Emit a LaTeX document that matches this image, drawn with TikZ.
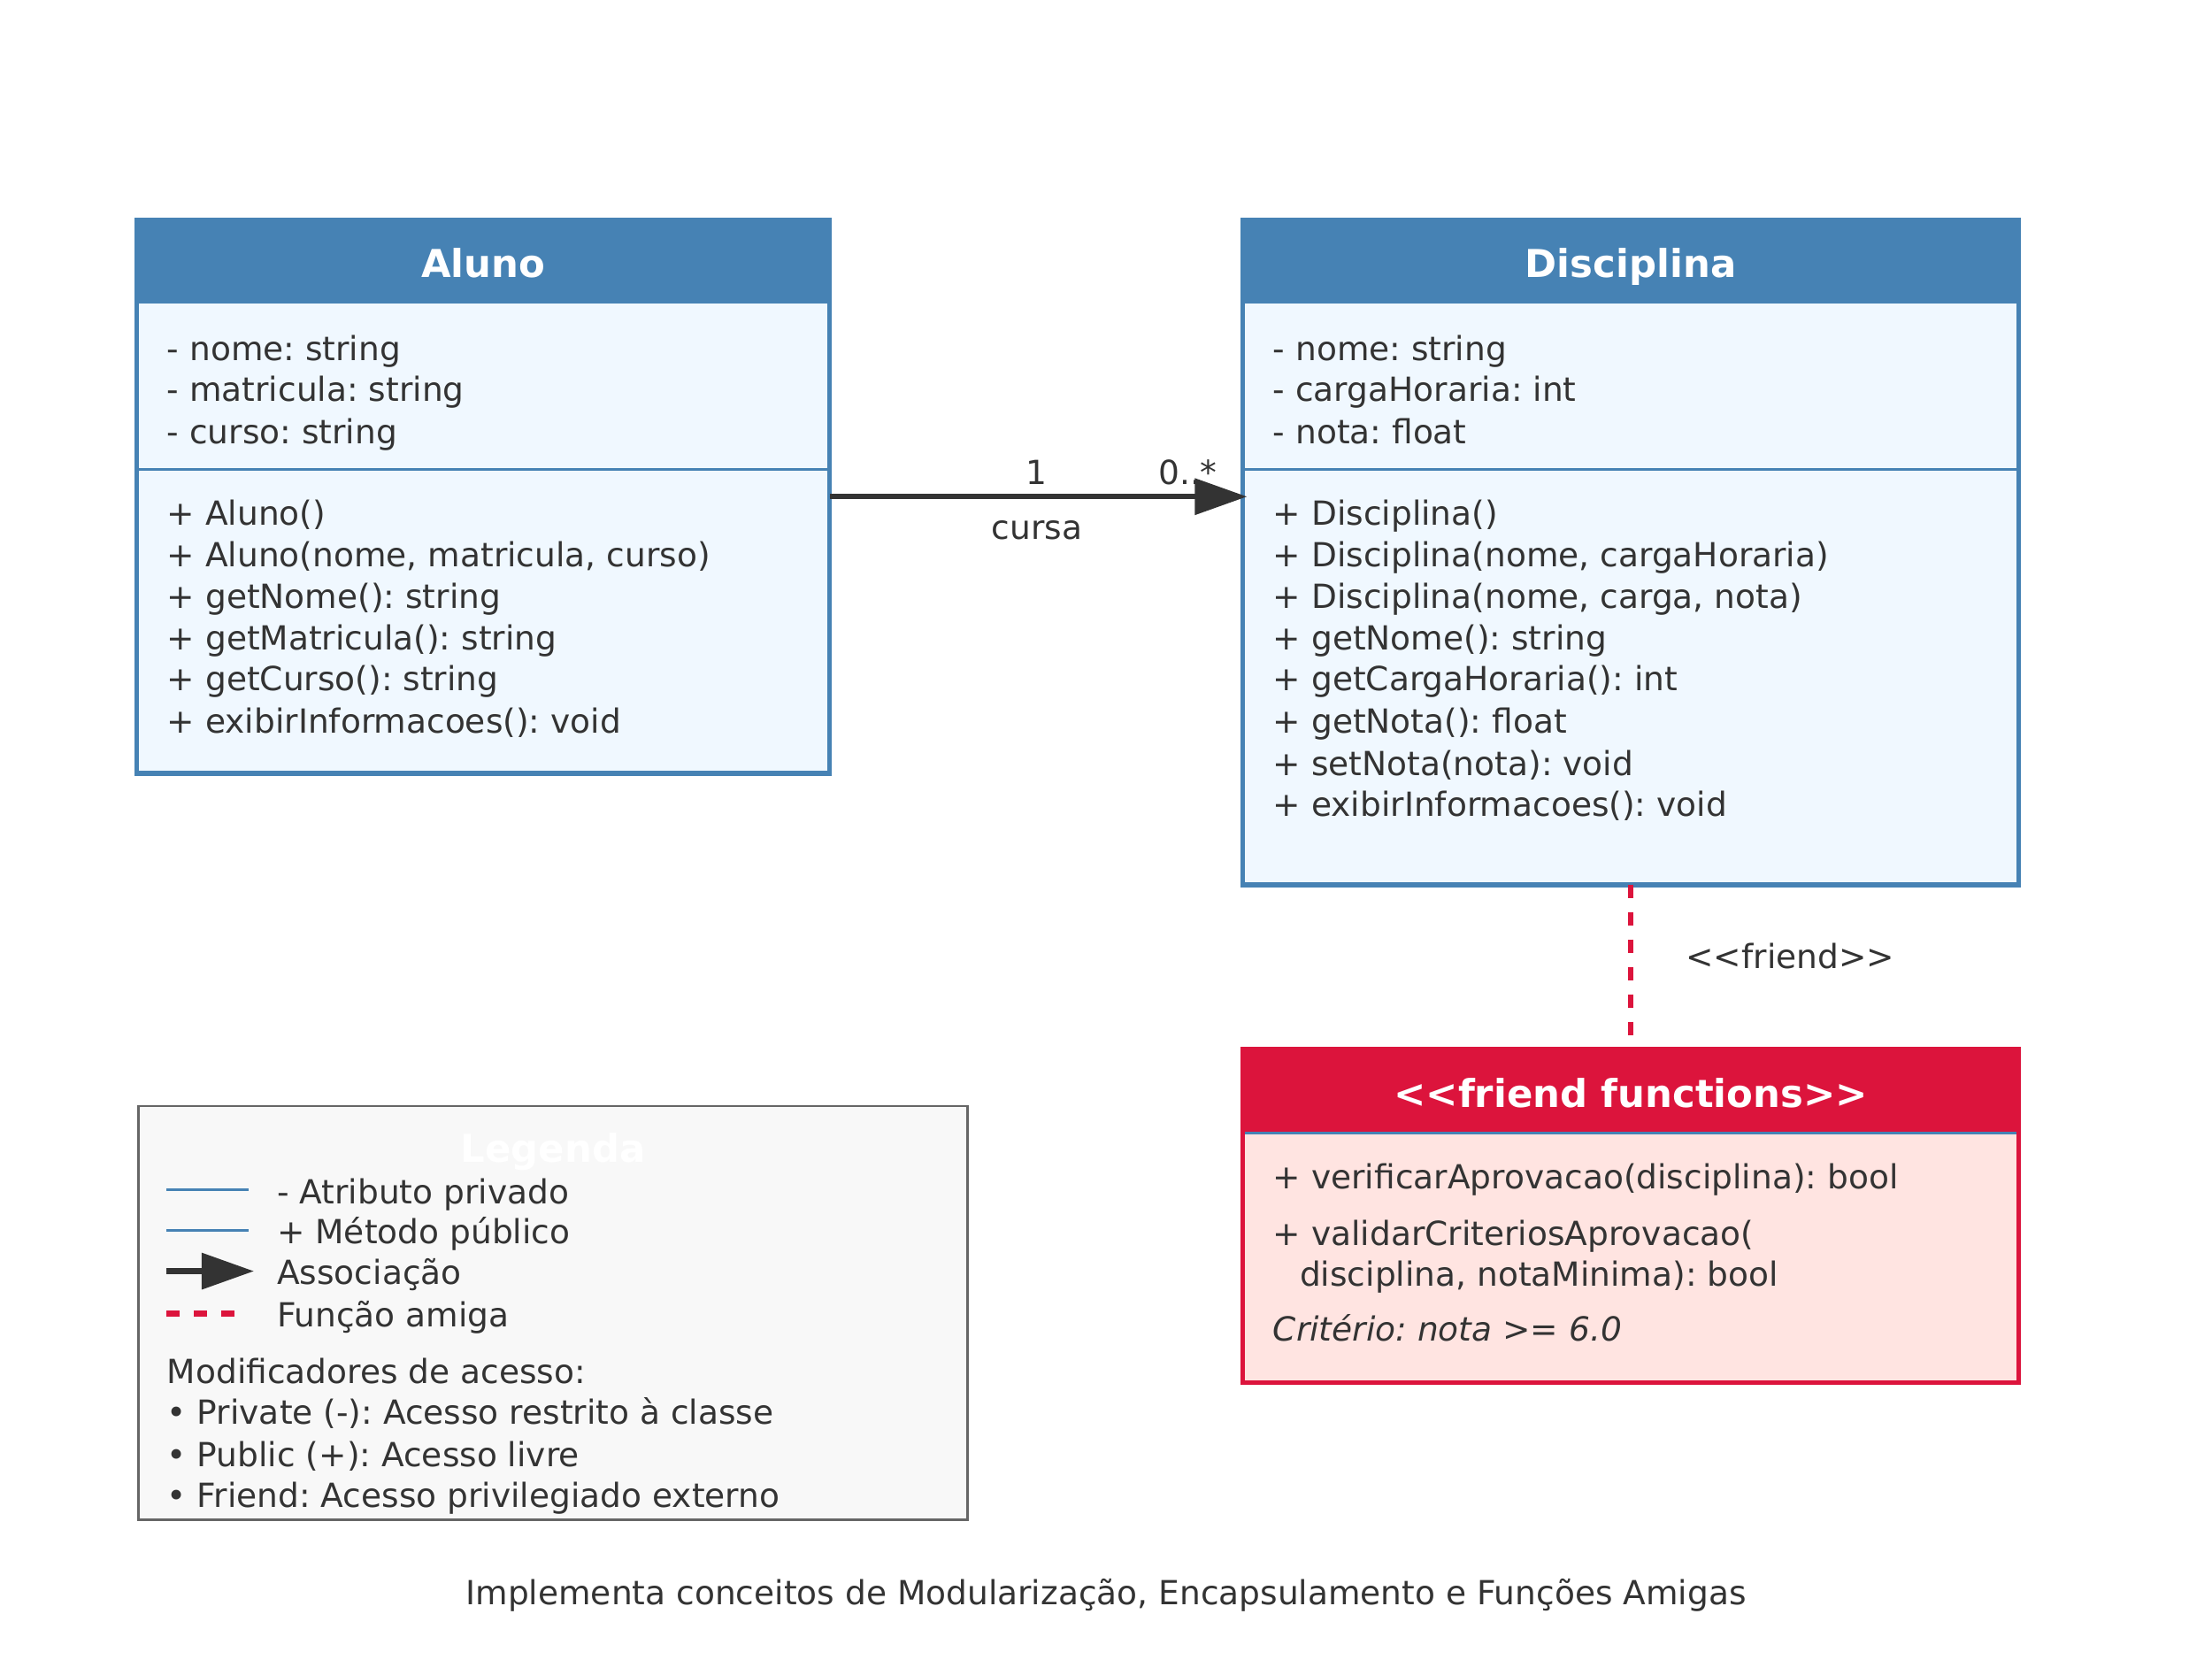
\documentclass[tikz,border=0pt]{standalone}
\usepackage{fontspec}
\setmainfont{DejaVu Sans}
\usetikzlibrary{arrows.meta}
\definecolor{steel}{HTML}{4682B4}
\definecolor{alice}{HTML}{F0F8FF}
\definecolor{crim}{HTML}{DC143C}
\definecolor{misty}{HTML}{FFE4E1}
\definecolor{txtc}{HTML}{333333}
\definecolor{legfill}{HTML}{F8F8F8}
\definecolor{legdraw}{HTML}{666666}
\newcommand\upx{0.015944cm}
\frenchspacing
\begin{document}
\begin{tikzpicture}[x=0.015944cm,y=-0.015944cm,
  box/.style={rectangle, inner sep=0, outer sep=0},
  body/.style={anchor=west, inner sep=0, font=\fontsize{10.68}{12}\selectfont, text=txtc, text height=7.7pt, text depth=0pt},
  lbl/.style={inner sep=0, font=\fontsize{10.68}{12}\selectfont, text=txtc, text height=7.7pt, text depth=0pt},
  ttl/.style={inner sep=0, font=\fontsize{12.35}{14}\selectfont\bfseries, text=white, text height=9pt, text depth=0pt},
  border/.style={line width=1.6pt},
  sep/.style={steel, line width=0.85pt},
  assoc/.style={draw=txtc, line width=1.8pt, -{Triangle[length=0.59cm, width=0.4cm]}, fill=txtc},
  frienddash/.style={draw=crim, line width=1.9pt, dash pattern=on 0.15cm off 0.16cm}
]
\useasboundingbox[fill=white] (0,0) rectangle (1568,1176);

% ---------- Aluno ----------
\node[box, fill=alice, minimum width=491*\upx, minimum height=392*\upx] (aluno) at (342.5,352) {};
\fill[steel] (aluno.north west) rectangle ([yshift=-59*\upx]aluno.north east);
\draw[sep] (aluno.west |- 0,333) -- (aluno.east |- 0,333);
\draw[steel, border] (aluno.north west) rectangle (aluno.south east);
\node[ttl] (alunoT) at (342.5,187) {Aluno};
\node[body] (a1) at (118,247) {- nome: string};
\node[body] (a2) at (118,276) {- matricula: string};
\node[body] (a3) at (118,306) {- curso: string};
\node[body] (am1) at (118,364) {+ Aluno()};
\node[body] (am2) at (118,393) {+ Aluno(nome, matricula, curso)};
\node[body] (am3) at (118,423) {+ getNome(): string};
\node[body] (am4) at (118,452) {+ getMatricula(): string};
\node[body] (am5) at (118,481) {+ getCurso(): string};
\node[body] (am6) at (118,511) {+ exibirInformacoes(): void};

% ---------- Disciplina ----------
\node[box, fill=alice, minimum width=550*\upx, minimum height=471*\upx] (disc) at (1156,391.5) {};
\fill[steel] (disc.north west) rectangle ([yshift=-59*\upx]disc.north east);
\draw[sep] (disc.west |- 0,333) -- (disc.east |- 0,333);
\draw[steel, border] (disc.north west) rectangle (disc.south east);
\node[ttl] (discT) at (1156,187) {Disciplina};
\node[body] (d1) at (902,247) {- nome: string};
\node[body] (d2) at (902,276) {- cargaHoraria: int};
\node[body] (d3) at (902,306) {- nota: float};
\node[body] (dm1) at (902,364) {+ Disciplina()};
\node[body] (dm2) at (902,393) {+ Disciplina(nome, cargaHoraria)};
\node[body] (dm3) at (902,423) {+ Disciplina(nome, carga, nota)};
\node[body] (dm4) at (902,452) {+ getNome(): string};
\node[body] (dm5) at (902,481) {+ getCargaHoraria(): int};
\node[body] (dm6) at (902,511) {+ getNota(): float};
\node[body] (dm7) at (902,541) {+ setNota(nota): void};
\node[body] (dm8) at (902,570) {+ exibirInformacoes(): void};

% ---------- Friend functions ----------
\node[box, fill=misty, minimum width=550*\upx, minimum height=236*\upx] (friend) at (1156,862) {};
\fill[crim] (friend.north west) rectangle ([yshift=-59*\upx]friend.north east);
\draw[sep] ([yshift=-59*\upx]friend.north west) -- ([yshift=-59*\upx]friend.north east);
\draw[crim, border] (friend.north west) rectangle (friend.south east);
\node[ttl] (friendT) at (1156,775) {<\kern0pt<friend functions>\kern0pt>};
\node[body] (f1) at (902,834) {+ verificarAprovacao(disciplina): bool};
\node[body] (f2) at (902,874) {+ validarCriteriosAprovacao(};
\node[body] (f3) at (921,903) {disciplina, notaMinima): bool};
\node[body, font=\fontsize{10.68}{12}\selectfont\itshape] (f4) at (902,942) {Critério: nota >= 6.0};

% ---------- Connectors ----------
\node[lbl] (m1) at (735,335) {1};
\node[lbl] (m2) at (842,335) {0..*};
\node[lbl] (cursa) at (735,374) {cursa};
\draw[assoc] (aluno.east) -- ([xshift=3*\upx]aluno.east -| disc.west);
\draw[frienddash] (disc.south) -- (friend.north);
\node[lbl] (fr) at (1269,678) {<\kern0pt<friend>\kern0pt>};

% ---------- Legend ----------
\node[box, draw=legdraw, fill=legfill, line width=0.8pt, minimum width=588*\upx, minimum height=293*\upx] (legend) at (392,930.5) {};
\node[ttl] (legT) at (392,814) {Legenda};
\coordinate (l1a) at (118,843); \coordinate (l1b) at (176,843);
\coordinate (l2a) at (118,872); \coordinate (l2b) at (176,872);
\coordinate (l3a) at (118,901); \coordinate (l3b) at (180,901);
\coordinate (l4a) at (118,931); \coordinate (l4b) at (168,931);
\draw[sep] (l1a) -- (l1b);
\draw[sep] (l2a) -- (l2b);
\draw[assoc] (l3a) -- (l3b);
\draw[frienddash] (l4a) -- (l4b);
\node[body] (lt1) at (196,845) {- Atributo privado};
\node[body] (lt2) at (196,873) {+ Método público};
\node[body] (lt3) at (196,902) {Associação};
\node[body] (lt4) at (196,932) {Função amiga};
\node[body] (lm0) at (118,972) {Modificadores de acesso:};
\node[body] (lm1) at (118,1001) {• Private (-): Acesso restrito à classe};
\node[body] (lm2) at (118,1031) {• Public (+): Acesso livre};
\node[body] (lm3) at (118,1060) {• Friend: Acesso privilegiado externo};

% ---------- Caption ----------
\node[lbl] (cap) at (784,1129) {Implementa conceitos de Modularização, Encapsulamento e Funções Amigas};
\end{tikzpicture}
\end{document}
